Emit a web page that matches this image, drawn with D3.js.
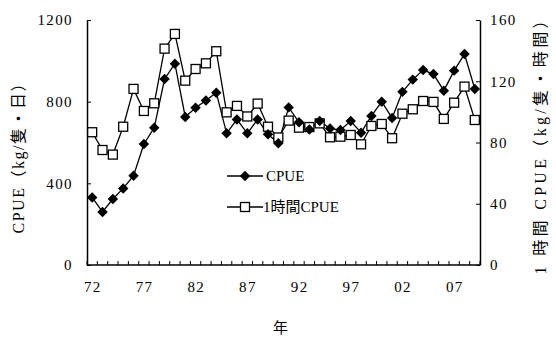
<!DOCTYPE html>
<html>
<head>
<meta charset="utf-8">
<script src="https://cdn.jsdelivr.net/npm/d3@7"></script>
<style>
  body { margin: 0; background: #fff; }
  text { font-family: "Liberation Serif", "Noto Sans CJK JP", serif; fill: #000; }
</style>
</head>
<body>
<div id="chart"></div>
<script>
// years 1972 - 2009
var years = d3.range(1972, 2010);
var cpue = [331, 260, 323, 375, 437, 593, 672, 911, 986, 725, 770, 806, 844, 645, 713, 645, 713, 640, 596, 772,
            699, 664, 705, 669, 661, 705, 648, 730, 800, 720, 848, 908, 955, 935, 854, 952, 1033, 862];
var cpueHour = [86.7, 75.1, 72.1, 90.3, 115, 100.6, 105.6, 141.3, 150.9, 120.4, 128, 131.7, 139.6, 99.7, 103.9, 97, 105.4, 90.3, 83.3, 94.3,
                89.7, 90.1, 92.5, 83.4, 83.8, 84.9, 78.8, 90.8, 92.1, 82.8, 98.8, 101.7, 107.1, 106.5, 95.4, 106, 116.5, 94.7];
var leftTicks = [0, 400, 800, 1200];
var rightTicks = [0, 40, 80, 120, 160];
var labelYears = [1972, 1977, 1982, 1987, 1992, 1997, 2002, 2007];

var margin = {top: 20, right: 76, bottom: 75, left: 87},
    width = 556 - margin.left - margin.right,
    height = 340 - margin.top - margin.bottom;

var svg = d3.select("#chart")
    .append("svg")
    .attr("width", 556)
    .attr("height", 340)
    .append("g")
    .attr("transform", "translate(" + margin.left + "," + margin.top + ")");

var x = d3.scaleBand()
    .domain(years)
    .range([0, width])
    .padding(0);

var y = d3.scaleLinear().domain([0, 1200]).range([height, 0]);
var y2 = d3.scaleLinear().domain([0, 160]).range([height, 0]);

function cx(d, i) { return x(years[i]) + x.bandwidth() / 2; }

// x axis: inward ticks at band boundaries
svg.append("line")
    .attr("x1", 0).attr("x2", width)
    .attr("y1", height).attr("y2", height)
    .attr("stroke", "#000").attr("stroke-width", 1.5);
svg.selectAll(".xtick")
    .data(years.concat([2010]))
    .enter()
    .append("line")
    .attr("x1", function (d, i) { return i * x.step(); })
    .attr("x2", function (d, i) { return i * x.step(); })
    .attr("y1", height).attr("y2", height - 4)
    .attr("stroke", "#000").attr("stroke-width", 1);
svg.selectAll(".xlab")
    .data(labelYears)
    .enter()
    .append("text")
    .attr("x", function (d) { return x(d) + x.bandwidth() / 2 + 0.7; })
    .attr("y", height + 27)
    .attr("text-anchor", "middle")
    .style("font-size", "15px")
    .style("letter-spacing", "1.4px")
    .text(function (d) { return String(d).slice(2); });

// left axis
svg.append("g")
    .call(d3.axisLeft(y).tickValues(leftTicks).tickFormat(d3.format("d"))
        .tickSizeInner(-4).tickSizeOuter(0).tickPadding(14))
    .call(function (g) {
        g.select(".domain").attr("stroke-width", 1.5);
        g.selectAll("text").style("font-size", "15px").style("letter-spacing", "1.4px")
            .style("font-family", "Liberation Serif");
    });

// right axis
svg.append("g")
    .attr("transform", "translate(" + width + ",0)")
    .call(d3.axisRight(y2).tickValues(rightTicks).tickFormat(d3.format("d"))
        .tickSizeInner(-4).tickSizeOuter(0).tickPadding(10))
    .call(function (g) {
        g.select(".domain").attr("stroke-width", 1.5);
        g.selectAll("text").style("font-size", "15px").style("letter-spacing", "1.4px")
            .style("font-family", "Liberation Serif");
    });

// lines
var line1 = d3.line().x(cx).y(function (d) { return y(d); });
var line2 = d3.line().x(cx).y(function (d) { return y2(d); });

svg.append("path").datum(cpue)
    .attr("d", line1).attr("fill", "none").attr("stroke", "#000").attr("stroke-width", 1.3);
svg.append("path").datum(cpueHour)
    .attr("d", line2).attr("fill", "none").attr("stroke", "#000").attr("stroke-width", 1.3);

var diamond = d3.symbol().type(d3.symbolDiamond2).size(70);

svg.selectAll(".sq")
    .data(cpueHour)
    .enter()
    .append("rect")
    .attr("x", function (d, i) { return cx(d, i) - 4.5; })
    .attr("y", function (d) { return y2(d) - 4.5; })
    .attr("width", 9).attr("height", 9)
    .attr("fill", "#fff").attr("stroke", "#000").attr("stroke-width", 1.3);

svg.selectAll(".dm")
    .data(cpue)
    .enter()
    .append("path")
    .attr("d", diamond)
    .attr("transform", function (d, i) { return "translate(" + cx(d, i) + "," + y(d) + ")"; })
    .attr("fill", "#000");

// legend
var lg = svg.append("g").attr("transform", "translate(140,156)");
lg.append("line").attr("x1", 0).attr("x2", 36).attr("y1", 0).attr("y2", 0)
    .attr("stroke", "#000").attr("stroke-width", 1.3);
lg.append("path").attr("d", diamond).attr("transform", "translate(18,0)").attr("fill", "#000");
lg.append("text").attr("x", 39).attr("y", 5).style("font-size", "15px").text("CPUE");
lg.append("line").attr("x1", 0).attr("x2", 36).attr("y1", 31).attr("y2", 31)
    .attr("stroke", "#000").attr("stroke-width", 1.3);
lg.append("rect").attr("x", 13.5).attr("y", 26.5).attr("width", 9).attr("height", 9)
    .attr("fill", "#fff").attr("stroke", "#000").attr("stroke-width", 1.3);
lg.append("text").attr("x", 36).attr("y", 36).style("font-size", "15px").text("1時間CPUE");

// axis titles
svg.append("text")
    .attr("transform", "translate(-63," + (height / 2 + 12) + ") rotate(-90)")
    .attr("text-anchor", "middle")
    .style("font-size", "16px")
    .attr("textLength", 158)
    .attr("lengthAdjust", "spacing")
    .text("CPUE（kg/隻・日）");
svg.append("text")
    .attr("transform", "translate(" + (width + 66) + "," + (height / 2 + 1) + ") rotate(-90)")
    .attr("text-anchor", "middle")
    .style("font-size", "16px")
    .attr("textLength", 262)
    .attr("lengthAdjust", "spacing")
    .text("1 時間 CPUE（kg/隻・時間）");
svg.append("text")
    .attr("x", x(1990) + x.bandwidth() * 0.7)
    .attr("y", height + 68)
    .attr("text-anchor", "middle")
    .style("font-size", "15px")
    .text("年");
</script>
</body>
</html>
